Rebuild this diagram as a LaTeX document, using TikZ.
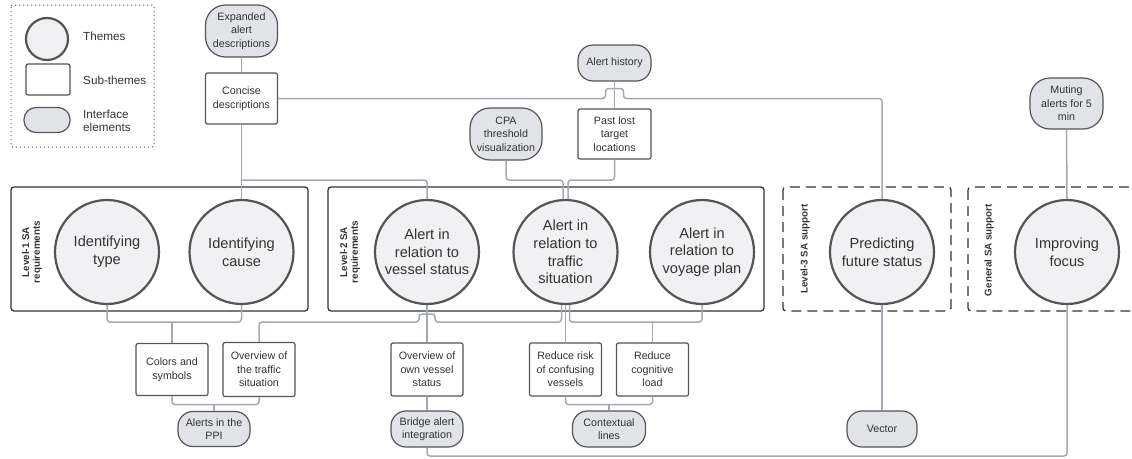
\documentclass[tikz,border=0pt]{standalone}
\usepackage{fontspec}
\setmainfont{Liberation Sans}
\usetikzlibrary{calc}

\definecolor{connc}{HTML}{A4AAB3}
\definecolor{nodeb}{HTML}{555555}
\definecolor{boxc}{HTML}{333333}
\definecolor{themef}{HTML}{F1F1F3}
\definecolor{ifacef}{HTML}{E1E3E8}
\definecolor{txt}{HTML}{333333}

\tikzset{
  conn/.style={draw=connc, line width=1.5pt, rounded corners=3pt},
  theme/.style={circle, draw=nodeb, line width=2.2pt, fill=themef, minimum size=104pt,
    inner sep=0pt, align=center, text=txt, font=\fontsize{14.6}{17.7}\selectfont},
  subtheme/.style={rectangle, draw=nodeb, line width=1.2pt, fill=white, rounded corners=2pt,
    minimum width=72pt, minimum height=52pt, inner sep=0pt, align=center, text=txt,
    font=\fontsize{10.7}{13.5}\selectfont},
  iface/.style={subtheme, fill=ifacef, rounded corners=15pt, minimum height=36pt},
  ifacetall/.style={iface, rounded corners=20pt, minimum height=52pt},
  grouplbl/.style={rotate=90, align=center, text=txt, inner sep=0pt,
    font=\bfseries\fontsize{9.8}{10.6}\selectfont},
  groupbox/.style={draw=boxc, line width=1.3pt, rounded corners=3pt},
  dashbox/.style={groupbox, dash pattern=on 10pt off 6pt},
  legendtxt/.style={anchor=west, align=left, text=txt, inner sep=0pt,
    font=\fontsize{11.7}{13.6}\selectfont},
}

\begin{document}
\begin{tikzpicture}[x=1pt, y=-1pt]
\useasboundingbox (0,0) rectangle (1132,458);

% ---- legend ----
\draw[draw=nodeb, line width=1pt, dash pattern=on 1.2pt off 2.8pt, rounded corners=2pt]
  (11,5) rectangle (154,147);
\node[theme, minimum size=42pt] (lgcircle) at (47,39) {};
\node[subtheme, minimum width=44pt, minimum height=31pt] (lgrect) at (48,79.5) {};
\node[iface, minimum width=46pt, minimum height=25pt, rounded corners=12pt] (lgpill) at (47,120) {};
\node[legendtxt] (lgthemes) at (83,36) {Themes};
\node[legendtxt] (lgsub) at (83,80) {Sub-themes};
\node[legendtxt] (lgiface) at (83,121) {Interface\\elements};

% ---- group frames ----
\draw[groupbox] (11,187) rectangle (308,311);
\draw[groupbox] (328,187) rectangle (764,311);
\draw[dashbox] (783,187) rectangle (951,311);
\draw[dashbox] (968,187) rectangle (1160,311);
\node[grouplbl] (lbl1) at (32,252) {Level-1 SA\\requirements};
\node[grouplbl] (lbl2) at (350,252) {Level-2 SA\\requirements};
\node[grouplbl] (lbl3) at (805,249) {Level-3 SA support};
\node[grouplbl] (lbl4) at (989,250) {General SA support};

% ---- themes ----
\node[theme] (type) at (107,252) {Identifying\\type};
\node[theme] (cause) at (241.5,252) {Identifying\\cause};
\node[theme] (vessel) at (427,252) {Alert in\\relation to\\vessel status};
\node[theme] (traffic) at (565.5,252) {Alert in\\relation to\\traffic\\situation};
\node[theme] (voyage) at (702,252) {Alert in\\relation to\\voyage plan};
\node[theme] (predict) at (882,252) {Predicting\\future status};
\node[theme] (focus) at (1067,252) {Improving\\focus};

% ---- upper sub-themes and interface elements ----
\node[ifacetall] (expanded) at (241.5,31) {Expanded\\alert\\descriptions};
\node[subtheme, minimum height=51pt] (concise) at (241.5,98.5) {Concise\\descriptions};
\node[iface, minimum width=73pt] (alerthist) at (614.5,63) {Alert history};
\node[ifacetall] (cpa) at (506,134) {CPA\\threshold\\visualization};
\node[subtheme, minimum width=73pt, minimum height=50pt] (pastlost) at (614.5,134) {Past lost\\target\\locations};
\node[ifacetall, minimum width=73pt, minimum height=51pt] (muting) at (1066.5,103.5) {Muting\\alerts for 5\\min};

% ---- lower sub-themes and interface elements ----
\node[subtheme] (colors) at (172,369.5) {Colors and\\symbols};
\node[subtheme, minimum height=54pt] (ovtraffic) at (259,369.5) {Overview of\\the traffic\\situation};
\node[subtheme, minimum height=53pt] (ovvessel) at (427,369.5) {Overview of\\own vessel\\status};
\node[subtheme, minimum height=53pt] (reducerisk) at (565.5,369.5) {Reduce risk\\of confusing\\vessels};
\node[subtheme, minimum height=53pt] (reducecog) at (652.5,369.5) {Reduce\\cognitive\\load};
\node[iface, minimum height=35pt] (ppi) at (214,429) {Alerts in the\\PPI};
\node[iface] (bridge) at (427,429) {Bridge alert\\integration};
\node[iface, minimum width=73pt] (context) at (609,429) {Contextual\\lines};
\node[iface, minimum width=70pt] (vector) at (882,429) {Vector};

% ---- rails for the connectors ----
\coordinate (toprail) at (0,180);
\coordinate (lowrail) at (0,322);
\coordinate (ppirail) at (0,404.5);
\coordinate (botrail) at (0,456);

% ---- connectors above the themes ----
\draw[conn] (expanded.south) -- (concise.north);
\draw[conn] (concise.south) -- (cause.north);
\draw[conn] (concise.south |- toprail) -| (vessel.north);
\draw[conn] (concise.east) -- ($(alerthist.south |- concise.east)+(-9,0)$)
  -- ++(0,-10) -- ++(18,0) -- ++(0,10) -| (predict.north);
\draw[conn] (alerthist.south) -- (pastlost.north);
\draw[conn] (cpa.south) |- ($(traffic.north |- toprail)+(-2.5,0)$) -- ($(traffic.north)+(-2.5,0.1)$);
\draw[conn] (pastlost.south) |- ($(traffic.north |- toprail)+(2.5,0)$) -- ($(traffic.north)+(2.5,0.1)$);
\draw[conn] (muting.south) -- (focus.north);

% ---- connectors below the themes ----
\draw[conn] (type.south) |- (cause.south |- lowrail) -- (cause.south);
\draw[conn] (colors.north) -- (colors.north |- lowrail);
\draw[conn] (ovtraffic.north) |- ($(vessel.south |- lowrail)+(-8,0)$)
  -- ++(0,-8) -- ++(16,0) -- ++(0,8) -| ($(traffic.south)+(-4,-0.2)$);
\draw[conn] (reducerisk.north) -- (traffic.south);
\draw[conn] ($(traffic.south)+(4,-0.2)$) |- (voyage.south |- lowrail) -- (voyage.south);
\draw[conn] (reducecog.north) -- (reducecog.north |- lowrail);
\draw[conn] (vessel.south) -- (ovvessel.north);
\draw[conn] (ovvessel.south) -- (bridge.north);
\draw[conn] (colors.south) |- (ovtraffic.south |- ppirail) -- (ovtraffic.south);
\draw[conn] (ppi.north) -- (ppi.north |- ppirail);
\draw[conn] (reducerisk.south) |- (reducecog.south |- ppirail) -- (reducecog.south);
\draw[conn] (context.north) -- (context.north |- ppirail);
\draw[conn] (predict.south) -- (vector.north);
\draw[conn] (bridge.south) |- (focus.south |- botrail) -- (focus.south);
\end{tikzpicture}
\end{document}
